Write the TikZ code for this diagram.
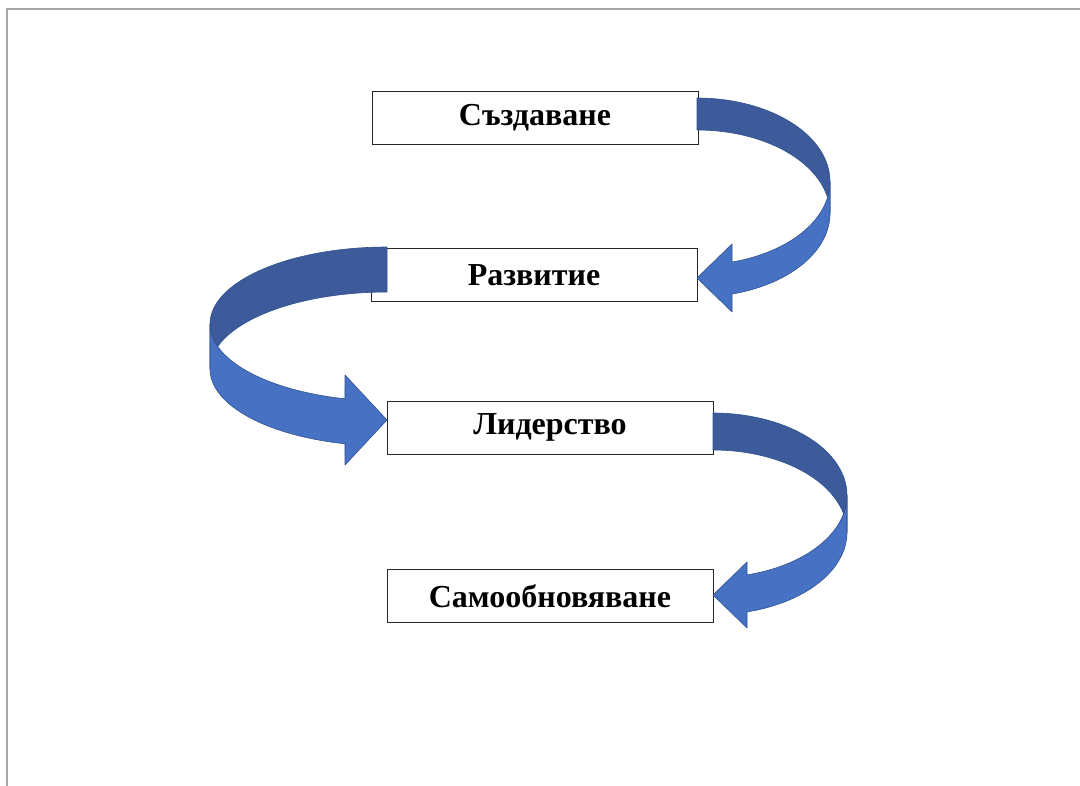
\documentclass[tikz,border=0pt]{standalone}
\usepackage{fontspec}
\setmainfont{Liberation Serif}
\definecolor{arrowlight}{RGB}{71,114,196}
\definecolor{arrowdark}{RGB}{61,90,154}
\definecolor{arrowline}{RGB}{47,82,143}
\definecolor{framegray}{RGB}{166,166,166}
\begin{document}
\begin{tikzpicture}[x=1pt,y=-1pt,
  box/.style={draw=black!85, line width=0.9pt, fill=white, minimum width=326pt,
    minimum height=53pt, inner sep=0pt, font=\fontsize{32}{36}\selectfont\bfseries},
  front/.style={fill=arrowlight, draw=arrowline, line width=0.6pt, line join=round},
  back/.style={fill=arrowdark, draw=arrowline, line width=0.6pt, line join=round},
  frameline/.style={draw=framegray, line width=2pt}]
\useasboundingbox (0,0) rectangle (1080,786);
\draw[frameline] (7,787) -- (7,9) -- (1081,9);

\node[box] (b1) at (535,117.5) {Създаване};
\node[box] (b2) at (534,275) {Развитие};
\node[box] (b3) at (550,427.5) {Лидерство};
\node[box] (b4) at (550,596) {Самообновяване};

% arrow 1: b1 -> b2 (band on the right)
\draw[back] plot[domain=270:360, samples=40] ({697+133*cos(\x)},{181.5+83.5*sin(\x)})
  -- plot[domain=360:270, samples=40] ({697+133*cos(\x)},{213.5+83.5*sin(\x)}) -- cycle;
\draw[front] plot[domain=0:74.74, samples=40] ({697+133*cos(\x)},{181.5+83.5*sin(\x)})
  -- (732,244) -- (697,278) -- (732,312)
  -- plot[domain=74.74:0, samples=40] ({697+133*cos(\x)},{213.5+83.5*sin(\x)}) -- cycle;

% arrow 2: b2 -> b3 (band on the left)
\draw[back] plot[domain=270:180, samples=40] ({387+177*cos(\x)},{324+77*sin(\x)})
  -- plot[domain=180:270, samples=40] ({387+177*cos(\x)},{369+77*sin(\x)}) -- cycle;
\draw[front] plot[domain=180:103.73, samples=40] ({387+177*cos(\x)},{324+77*sin(\x)})
  -- (345,375) -- (387,420) -- (345,465)
  -- plot[domain=103.73:180, samples=40] ({387+177*cos(\x)},{369+77*sin(\x)}) -- cycle;

% arrow 3: b3 -> b4 (band on the right)
\draw[back] plot[domain=270:360, samples=40] ({713+134*cos(\x)},{495.3+82.3*sin(\x)})
  -- plot[domain=360:270, samples=40] ({713+134*cos(\x)},{532.3+82.3*sin(\x)}) -- cycle;
\draw[front] plot[domain=0:75.3, samples=40] ({713+134*cos(\x)},{495.3+82.3*sin(\x)})
  -- (747,562) -- (713,595) -- (747,628)
  -- plot[domain=75.3:0, samples=40] ({713+134*cos(\x)},{532.3+82.3*sin(\x)}) -- cycle;
\end{tikzpicture}
\end{document}
